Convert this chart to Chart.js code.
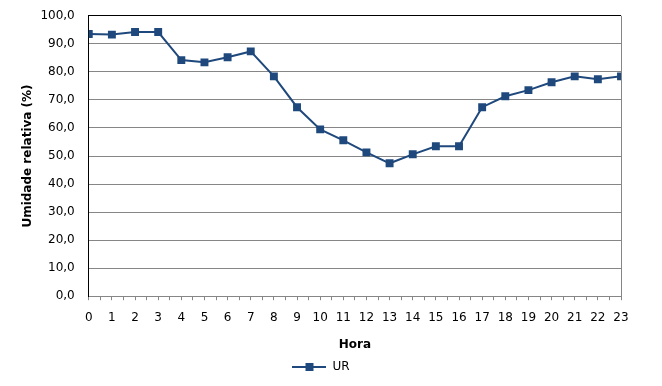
<!DOCTYPE html>
<html>
<head>
<meta charset="utf-8">
<script src="https://cdn.jsdelivr.net/npm/chart.js@4"></script>
<style>
  body { margin: 0; background: #fff; }
  #wrap { width: 662px; height: 386px; }
</style>
</head>
<body>
<div id="wrap"><canvas id="chart"></canvas></div>
<script>
// Hour of day and relative humidity (%)
const hours = [0, 1, 2, 3, 4, 5, 6, 7, 8, 9, 10, 11, 12, 13, 14, 15, 16, 17, 18, 19, 20, 21, 22, 23];
const urValues = [93.5, 93.3, 94.2, 94.2, 84.2, 83.4, 85.2, 87.3, 78.4, 67.4, 59.5, 55.6,
                  51.3, 47.4, 50.6, 53.5, 53.5, 67.4, 71.3, 73.5, 76.3, 78.4, 77.4, 78.4];
const seriesName = 'UR';
const yTitle = 'Umidade relativa (%)';
const xTitle = 'Hora';

const blue = '#1F497D';
const gray = '#868686';

// legend marker: line with a square in the middle
const marker = document.createElement('canvas');
marker.width = 34;
marker.height = 10;
const mctx = marker.getContext('2d');
mctx.strokeStyle = blue;
mctx.lineWidth = 2;
mctx.beginPath();
mctx.moveTo(0, 5);
mctx.lineTo(34, 5);
mctx.stroke();
mctx.fillStyle = blue;
mctx.fillRect(13, 1, 8, 8);

Chart.defaults.font.family = '"DejaVu Sans", Verdana, sans-serif';
Chart.defaults.font.size = 12;
Chart.defaults.color = '#000';

new Chart(document.getElementById('chart').getContext('2d'), {
    type: 'line',
    data: {
        datasets: [{
            label: seriesName,
            data: hours.map((h, i) => ({ x: h, y: urValues[i] })),
            borderColor: blue,
            backgroundColor: blue,
            borderWidth: 2,
            pointStyle: 'rect',
            pointRadius: 5.6,
            pointBorderWidth: 0,
            pointHoverRadius: 5.6,
            tension: 0,
            fill: false
        }]
    },
    options: {
        responsive: true,
        maintainAspectRatio: false,
        animation: false,
        layout: { padding: { top: 0, right: 41, left: 21, bottom: 3 } },
        plugins: {
            tooltip: { enabled: false },
            legend: {
                position: 'bottom',
                labels: {
                    usePointStyle: true,
                    pointStyle: marker,
                    pointStyleWidth: 34,
                    padding: 7,
                    color: '#000',
                    font: { size: 12 }
                }
            }
        },
        scales: {
            x: {
                type: 'linear',
                min: 0,
                max: 23,
                border: { color: gray, width: 1 },
                grid: {
                    color: ctx => ctx.tick && ctx.tick.value === 23 ? gray : 'rgba(0,0,0,0)',
                    tickColor: gray,
                    tickLength: 4
                },
                ticks: {
                    stepSize: 0.5,
                    autoSkip: false,
                    maxRotation: 0,
                    padding: 10,
                    callback: v => Number.isInteger(v) ? String(v) : ''
                },
                title: {
                    display: true,
                    text: xTitle,
                    font: { weight: 'bold', size: 12 },
                    padding: { top: 3, bottom: 2 }
                }
            },
            y: {
                min: 0,
                max: 100,
                border: { color: '#000', width: 1 },
                grid: {
                    color: ctx => ctx.tick && ctx.tick.value === 100 ? '#000' : gray,
                    drawTicks: false
                },
                ticks: {
                    stepSize: 10,
                    padding: 14,
                    font: { lineHeight: 0.3 },
                    callback: v => v.toFixed(1).replace('.', ',')
                },
                title: {
                    display: true,
                    text: yTitle,
                    font: { weight: 'bold', size: 12 },
                    padding: { top: 0, bottom: -9 }
                }
            }
        }
    }
});
</script>
</body>
</html>
